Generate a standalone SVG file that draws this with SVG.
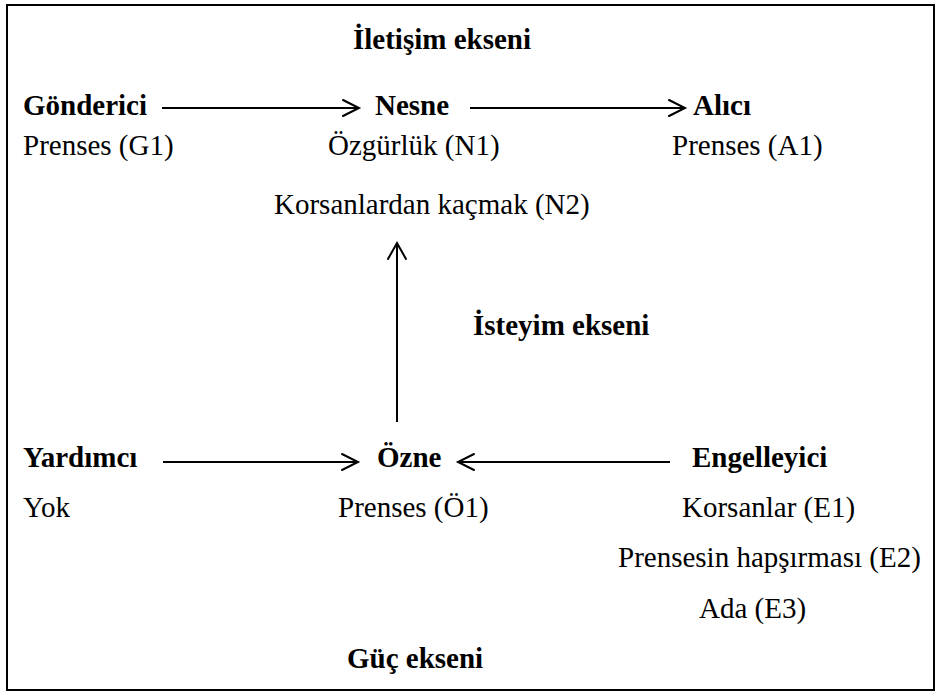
<svg xmlns="http://www.w3.org/2000/svg" width="938" height="693" viewBox="0 0 938 693">
  <style>
    text { font-family: "Liberation Serif", "Times New Roman", serif; font-size: 29px; fill: #000; }
    .b { font-weight: bold; }
    .link { stroke: #000; stroke-width: 2; fill: none; }
    .head { stroke: #000; stroke-width: 2; fill: none; stroke-linecap: round; stroke-linejoin: miter; }
  </style>
  <rect x="7" y="5" width="927" height="685" fill="#fff" stroke="#000" stroke-width="2"/>

  <text class="b" x="353" y="49">İletişim ekseni</text>
  <text class="b" x="473" y="335">İsteyim ekseni</text>
  <text class="b" x="347" y="668">Güç ekseni</text>

  <g id="gonderici">
    <text class="b" x="23" y="115">Gönderici</text>
    <text x="23" y="155">Prenses (G1)</text>
  </g>
  <g id="nesne">
    <text class="b" x="375" y="115">Nesne</text>
    <text x="328" y="155">Özgürlük (N1)</text>
    <text x="274" y="214">Korsanlardan kaçmak (N2)</text>
  </g>
  <g id="alici">
    <text class="b" x="693" y="115">Alıcı</text>
    <text x="672" y="155">Prenses (A1)</text>
  </g>
  <g id="yardimci">
    <text class="b" x="23" y="467">Yardımcı</text>
    <text x="23" y="517">Yok</text>
  </g>
  <g id="ozne">
    <text class="b" x="377" y="467">Özne</text>
    <text x="338" y="517">Prenses (Ö1)</text>
  </g>
  <g id="engelleyici">
    <text class="b" x="692" y="467">Engelleyici</text>
    <text x="682" y="517">Korsanlar (E1)</text>
    <text x="618" y="567">Prensesin hapşırması (E2)</text>
    <text x="699" y="618">Ada (E3)</text>
  </g>

  <g id="connectors">
    <!-- Gönderici -> Nesne -->
    <line class="link" x1="162" y1="108" x2="358" y2="108"/>
    <polyline class="head" points="343,100 359,108 343,116"/>
    <!-- Nesne -> Alıcı -->
    <line class="link" x1="470" y1="108" x2="684" y2="108"/>
    <polyline class="head" points="669,100 685,108 669,116"/>
    <!-- Özne -> Nesne -->
    <line class="link" x1="397" y1="422" x2="397" y2="244"/>
    <polyline class="head" points="388,259 397,243 406,259"/>
    <!-- Yardımcı -> Özne -->
    <line class="link" x1="163" y1="462" x2="357" y2="462"/>
    <polyline class="head" points="342,454 358,462 342,470"/>
    <!-- Engelleyici -> Özne -->
    <line class="link" x1="670" y1="462" x2="459" y2="462"/>
    <polyline class="head" points="474,454 458,462 474,470"/>
  </g>
</svg>
